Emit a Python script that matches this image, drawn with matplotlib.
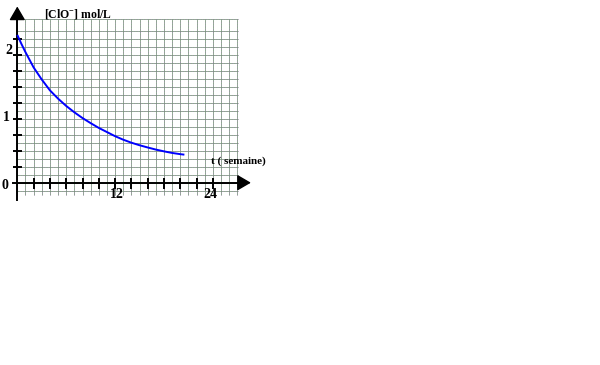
import matplotlib
matplotlib.use("Agg")
import matplotlib.pyplot as plt

# valeurs : concentration en ClO- (mol/L) selon t (semaine)
semaines = [0, 0.5, 1, 2, 3, 4, 5, 6, 7, 8, 9, 10, 11, 12, 13, 14, 15, 16, 17, 18, 19, 20, 20.5]
concentration = [2.32, 2.18, 2.05, 1.81, 1.62, 1.45, 1.32, 1.205, 1.105, 1.015, 0.935,
                 0.86, 0.795, 0.73, 0.675, 0.628, 0.588, 0.553, 0.52, 0.492, 0.467, 0.448, 0.44]

graduations_x = [2, 4, 6, 8, 10, 12, 14, 16, 18, 20, 22, 24]
graduations_y = [0.25, 0.5, 0.75, 1, 1.25, 1.5, 1.75, 2, 2.25]
etiquettes_x = ["12", "24"]
etiquettes_y = ["0", "1", "2"]

plt.rcParams['mathtext.fontset'] = 'custom'
plt.rcParams['mathtext.rm'] = 'Liberation Serif:bold'
plt.rcParams['mathtext.it'] = 'Liberation Serif:bold'
police = dict(family='Liberation Serif', fontweight='bold', color='black')


def ligne_pointillee(ax, xs, ys):
    # pointillé vert / violet alterné comme le quadrillage d'origine
    for c, off in (('#8a6f9a', 0), ('#6f9a6f', 1)):
        ax.plot(xs, ys, color=c, lw=0.72,
                linestyle=(off * 0.72, (0.72, 0.72)), zorder=1)


def quadrillage(ax):
    for k in range(0, 28):
        ligne_pointillee(ax, [k, k], [-0.19, 2.565])
    for k in range(-1, 20):
        ligne_pointillee(ax, [0, 27.1], [k * 0.125, k * 0.125])
    ligne_pointillee(ax, [0, 27.1], [2.565, 2.565])


def axes_fleches(ax):
    ax.plot([-0.5, 28], [0, 0], color='black', lw=1.4, zorder=3)
    ax.plot([0, 0], [-0.27, 2.7], color='black', lw=1.4, zorder=3)
    ax.annotate('', xy=(29.0, 0), xytext=(27.5, 0),
                arrowprops=dict(arrowstyle='-|>,head_length=0.6,head_width=0.35',
                                color='black', lw=1.0, mutation_scale=14), zorder=4)
    ax.annotate('', xy=(0, 2.81), xytext=(0, 2.6),
                arrowprops=dict(arrowstyle='-|>,head_length=0.6,head_width=0.35',
                                color='black', lw=1.0, mutation_scale=14), zorder=4)
    ax.vlines(graduations_x, -0.099, 0.074, color='black', lw=1.4, zorder=3)
    ax.hlines(graduations_y, -0.49, 0.58, color='black', lw=1.4, zorder=3)


def generar_grafico():
    fig = plt.figure(figsize=(6, 3.65), dpi=100)
    ax = fig.add_axes([0, 0, 1, 1])
    ax.set_xlim(-17.3 / 8.15, (600 - 17.3) / 8.15)
    ax.set_ylim((182.7 - 365) / 63.7, 182.7 / 63.7)
    ax.axis('off')

    quadrillage(ax)
    axes_fleches(ax)

    ax.plot(semaines, concentration, color='#0000ff', lw=1.4, zorder=5,
            solid_capstyle='butt', solid_joinstyle='round')

    # étiquettes
    for txt, x, y in zip(etiquettes_y, [-1.51, -1.33, -1.08], [-0.05, 1.03, 2.08]):
        ax.text(x, y, txt, fontsize=10, ha='center', va='center', **police)
    for txt, x in zip(etiquettes_x, [12.25, 23.65]):
        ax.text(x, -0.18, txt, fontsize=10, ha='center', va='center', **police)

    ax.text(3.28, 2.65, r'[ClO$^{-}$] mol/L', fontsize=8.5, ha='left', va='center', **police)
    ax.text(23.73, 0.34, 't ( semaine)', fontsize=8, ha='left', va='center', **police)

    fig.savefig('out.png', dpi=100, facecolor='white')
    plt.close(fig)


def main():
    generar_grafico()


if __name__ == "__main__":
    main()
